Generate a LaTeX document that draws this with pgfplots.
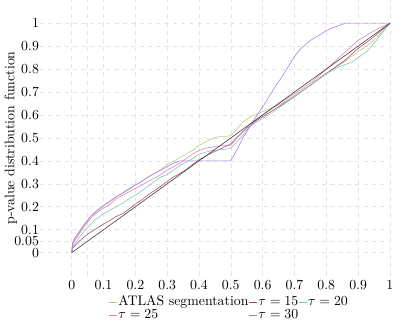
\documentclass[border=0pt]{standalone}
\usepackage{pgfplots}
\pgfplotsset{compat=1.18}
\definecolor{colA}{HTML}{B5C77F}
\definecolor{colB}{HTML}{A04A6E}
\definecolor{colC}{HTML}{7CC6AE}
\definecolor{colD}{HTML}{E678BE}
\definecolor{colE}{HTML}{A878E8}
\begin{document}
\begin{tikzpicture}
\begin{axis}[
  scale only axis,
  width=253pt, height=199pt,
  xmin=-0.1, xmax=1, ymin=-0.1, ymax=1.1,
  xtick={0,0.1,0.2,0.3,0.4,0.5,0.6,0.7,0.8,0.9,1},
  xticklabels={0,0.1,0.2,0.3,0.4,0.5,0.6,0.7,0.8,0.9,1},
  extra x ticks={0.05}, extra x tick labels={},
  ytick={0,0.05,0.1,0.2,0.3,0.4,0.5,0.6,0.7,0.8,0.9,1},
  yticklabels={0,0.05,0.1,0.2,0.3,0.4,0.5,0.6,0.7,0.8,0.9,1},
  yticklabel style={inner xsep=0.5pt},
  grid=major,
  major grid style={dashed, gray!22},
  extra tick style={grid=major, major grid style={dashed, gray!22}},
  axis line style={draw=none},
  tick style={draw=none},
  ylabel={p-value distribution function},
  ylabel style={yshift=-6pt},
  legend columns=3,
  legend cell align=left,
  legend style={at={(0.54,-0.063)}, anchor=north, draw=none, fill=none,
    inner sep=0pt, row sep=-2.5pt,
    nodes={inner xsep=0.5pt},
    /tikz/every even column/.append style={column sep=0pt}},
  legend image code/.code={\draw[#1] (0cm,0cm) -- (0.2cm,0cm);},
]
\addplot[colA, thin] coordinates {(0,0)(0.003,0.04)(0.01,0.06)(0.02,0.08)(0.04,0.12)(0.06,0.158)(0.08,0.18)(0.1,0.205)(0.12,0.22)(0.14,0.243)(0.16,0.258)(0.18,0.275)(0.2,0.295)(0.22,0.31)(0.24,0.33)(0.26,0.345)(0.28,0.362)(0.3,0.385)(0.32,0.398)(0.34,0.415)(0.36,0.43)(0.38,0.445)(0.4,0.468)(0.42,0.482)(0.44,0.497)(0.46,0.505)(0.48,0.506)(0.5,0.51)(0.52,0.54)(0.54,0.572)(0.56,0.59)(0.6,0.615)(0.62,0.625)(0.66,0.65)(0.7,0.685)(0.74,0.72)(0.78,0.765)(0.82,0.8)(0.86,0.835)(0.9,0.875)(0.94,0.915)(0.97,0.955)(1,1)};
\addlegendentry{ATLAS segmentation}
\addplot[colB, thin] coordinates {(0,0)(0.003,0.02)(0.01,0.03)(0.02,0.045)(0.04,0.07)(0.06,0.09)(0.08,0.107)(0.1,0.125)(0.12,0.14)(0.14,0.158)(0.16,0.17)(0.18,0.19)(0.2,0.212)(0.22,0.23)(0.24,0.252)(0.26,0.27)(0.28,0.29)(0.3,0.31)(0.32,0.33)(0.34,0.345)(0.36,0.362)(0.38,0.385)(0.4,0.405)(0.44,0.435)(0.48,0.46)(0.5,0.475)(0.54,0.53)(0.58,0.575)(0.62,0.61)(0.66,0.645)(0.7,0.68)(0.74,0.72)(0.78,0.76)(0.82,0.8)(0.86,0.84)(0.9,0.89)(0.94,0.93)(1,1)};
\addlegendentry{$\tau=15$}
\addplot[colC, thin] coordinates {(0,0)(0.003,0.025)(0.01,0.04)(0.02,0.06)(0.04,0.095)(0.06,0.125)(0.08,0.15)(0.1,0.17)(0.12,0.185)(0.14,0.2)(0.16,0.215)(0.18,0.235)(0.2,0.25)(0.22,0.27)(0.24,0.29)(0.26,0.31)(0.28,0.33)(0.3,0.34)(0.32,0.36)(0.34,0.38)(0.36,0.395)(0.38,0.41)(0.4,0.43)(0.44,0.445)(0.48,0.45)(0.5,0.455)(0.53,0.5)(0.56,0.55)(0.6,0.585)(0.64,0.62)(0.68,0.66)(0.72,0.7)(0.76,0.74)(0.8,0.78)(0.84,0.81)(0.88,0.83)(0.9,0.85)(0.93,0.88)(0.96,0.93)(1,1)};
\addlegendentry{$\tau=20$}
\addplot[colD, thin] coordinates {(0,0)(0.003,0.035)(0.01,0.055)(0.02,0.075)(0.04,0.115)(0.06,0.15)(0.08,0.175)(0.1,0.195)(0.12,0.21)(0.14,0.235)(0.16,0.25)(0.18,0.265)(0.2,0.28)(0.22,0.295)(0.24,0.31)(0.26,0.325)(0.28,0.34)(0.3,0.36)(0.32,0.375)(0.34,0.39)(0.36,0.41)(0.38,0.43)(0.4,0.445)(0.42,0.455)(0.44,0.46)(0.46,0.465)(0.5,0.468)(0.52,0.5)(0.54,0.53)(0.56,0.56)(0.6,0.6)(0.64,0.64)(0.68,0.675)(0.72,0.71)(0.76,0.75)(0.8,0.8)(0.84,0.85)(0.88,0.9)(0.9,0.925)(0.93,0.95)(0.96,0.975)(1,1)};
\addlegendentry{$\tau=25$}
\addplot[colE, thin] coordinates {(0,0)(0.003,0.045)(0.01,0.065)(0.02,0.085)(0.04,0.125)(0.06,0.16)(0.08,0.185)(0.1,0.205)(0.12,0.225)(0.14,0.245)(0.16,0.26)(0.18,0.28)(0.2,0.295)(0.22,0.31)(0.24,0.33)(0.26,0.345)(0.28,0.36)(0.3,0.375)(0.32,0.39)(0.34,0.4)(0.5,0.4)(0.52,0.45)(0.54,0.505)(0.56,0.55)(0.58,0.595)(0.6,0.635)(0.62,0.68)(0.64,0.725)(0.66,0.765)(0.68,0.81)(0.7,0.855)(0.72,0.89)(0.75,0.925)(0.78,0.95)(0.8,0.968)(0.83,0.985)(0.86,1)(1,1)};
\addlegendentry{$\tau=30$}
\addplot[black!80, thin, forget plot] coordinates {(0,0)(1,1)};
\end{axis}
\end{tikzpicture}
\end{document}
